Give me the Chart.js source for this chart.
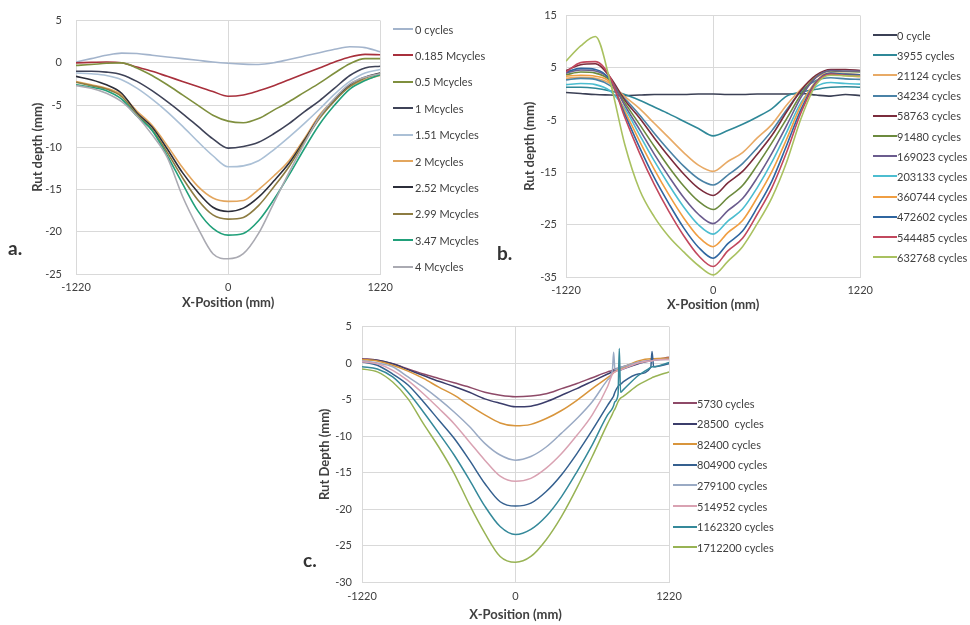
<!DOCTYPE html>
<html>
<head>
<meta charset="utf-8">
<script src="https://cdn.jsdelivr.net/npm/chart.js@4.4.1/dist/chart.umd.min.js"></script>
<style>
  html, body { margin: 0; padding: 0; background: #ffffff; }
  body { width: 970px; height: 625px; position: relative; overflow: hidden; font-family: Lato, "Open Sans", sans-serif; }
  canvas { position: absolute; }
  .lg { position: absolute; display: flex; align-items: center; height: 14px; font-size: 11px; color: #404040; white-space: pre; }
  .lg .ln { display: inline-block; height: 2px; }
  .pl { position: absolute; font-size: 19px; font-weight: bold; color: #333; }
</style>
</head>
<body>
<canvas id="cA" width="400" height="315" style="left:0px;top:0px;"></canvas>
<canvas id="cB" width="400" height="315" style="left:480px;top:0px;"></canvas>
<canvas id="cC" width="400" height="315" style="left:290px;top:310px;"></canvas>
<div class="pl" style="left:8px;top:236px;">a.</div>
<div class="pl" style="left:497px;top:241px;">b.</div>
<div class="pl" style="left:303px;top:548px;">c.</div>
<div id="legends"></div>
<script>
// ---------- shared axis values ----------
const xTickValues = [-1220, 0, 1220];
const xPositions = [-1220,-1098,-976,-854,-732,-610,-488,-366,-244,-122,0,122,244,366,488,610,732,854,976,1098,1220];

// ---------- panel a ----------
const labelsA = ["0 cycles","0.185 Mcycles","0.5 Mcycles","1 Mcycles","1.51 Mcycles","2 Mcycles","2.52 Mcycles","2.99 Mcycles","3.47 Mcycles","4 Mcycles"];
const colorsA = ["#a3b4cc","#a8303c","#7f8f3e","#3f4358","#abc0d6","#e3a65e","#2c2e3a","#8d7c42","#21a07a","#aaaab2"];
const a_0    = [0.1,0.5,0.9,1.15,1.1,0.9,0.7,0.5,0.3,0.1,-0.05,-0.15,-0.2,0.0,0.4,0.8,1.2,1.6,1.9,1.8,1.3];
const a_0185 = [0.0,0.05,0.1,0.0,-0.5,-1.0,-1.6,-2.2,-2.8,-3.4,-3.95,-3.8,-3.3,-2.7,-2.0,-1.3,-0.6,0.1,0.7,1.0,0.95];
const a_05   = [-0.3,-0.2,-0.05,0.0,-0.6,-1.5,-2.6,-3.8,-5.0,-6.2,-6.9,-7.1,-6.6,-5.6,-4.6,-3.5,-2.4,-1.2,-0.1,0.5,0.5];
const a_1    = [-1.0,-1.0,-1.1,-1.4,-2.2,-3.3,-4.6,-6.0,-7.5,-9.0,-10.1,-9.9,-9.4,-8.4,-7.2,-5.8,-4.5,-3.0,-1.5,-0.6,-0.4];
const a_151  = [-1.2,-1.3,-1.5,-2.0,-3.0,-4.3,-5.8,-7.5,-9.3,-11.0,-12.3,-12.2,-11.6,-10.3,-8.8,-7.2,-5.5,-3.7,-2.2,-1.2,-0.8];
const a_2    = [-2.2,-2.6,-3.0,-3.8,-5.7,-7.4,-9.8,-12.4,-14.6,-16.0,-16.4,-16.3,-15.0,-13.4,-11.6,-9.0,-6.2,-4.3,-2.8,-2.0,-1.5];
const a_252  = [-1.6,-2.0,-2.6,-3.6,-5.9,-7.6,-10.2,-13.0,-15.3,-17.1,-17.6,-17.2,-15.9,-14.0,-11.9,-9.2,-6.4,-4.4,-2.6,-1.7,-1.2];
const a_299  = [-2.3,-2.7,-3.1,-4.0,-6.1,-7.9,-10.6,-13.6,-16.2,-18.0,-18.5,-18.3,-16.9,-14.7,-12.3,-9.4,-6.6,-4.5,-2.8,-1.8,-1.3];
const a_347  = [-2.6,-2.9,-3.3,-4.3,-6.3,-8.0,-11.0,-14.3,-17.5,-19.6,-20.4,-20.2,-18.7,-16.2,-13.3,-10.2,-7.3,-5.0,-3.1,-2.1,-1.4];
const a_4    = [-2.7,-3.0,-3.6,-4.6,-6.3,-8.5,-11.2,-15.8,-19.5,-22.6,-23.2,-22.6,-20.2,-16.6,-13.0,-9.6,-6.4,-4.2,-2.5,-1.7,-1.3];
const seriesA = [a_0,a_0185,a_05,a_1,a_151,a_2,a_252,a_299,a_347,a_4];

// ---------- panel b ----------
const labelsB = ["0 cycle","3955 cycles","21124 cycles","34234 cycles","58763 cycles","91480 cycles","169023 cycles","203133 cycles","360744 cycles","472602 cycles","544485 cycles","632768 cycles"];
const colorsB = ["#3b4055","#2f8898","#e8aa66","#4a82a6","#7b2c3c","#6c8a3e","#6b5c8e","#4cbdd0","#f09e42","#2f66a0","#c2485e","#a9c160"];
const b_0      = [0.3,0.1,-0.1,-0.2,-0.3,-0.2,-0.1,-0.1,-0.1,0.0,0.0,-0.1,-0.1,0.0,0.0,0.0,0.1,-0.2,-0.4,-0.1,-0.3];
const b_3955   = [1.3,1.3,1.1,0.6,-0.1,-1.2,-2.5,-3.8,-5.2,-6.6,-8.0,-7.0,-5.8,-4.4,-2.8,-0.4,0.4,0.9,1.3,1.4,1.3];
const b_21124  = [3.0,3.2,3.0,2.0,-0.5,-2.8,-5.6,-8.4,-11.2,-13.6,-14.8,-12.9,-11.2,-8.4,-5.8,-2.1,1.0,3.2,4.0,3.9,3.7];
const b_34234  = [2.7,3.0,2.8,1.6,-0.9,-4.0,-7.5,-10.8,-13.8,-16.2,-17.4,-15.5,-13.3,-10.3,-7.0,-3.0,0.6,2.6,3.1,2.9,2.8];
const b_58763  = [4.5,5.6,5.8,3.2,-1.2,-4.6,-8.4,-12.0,-15.3,-18.0,-19.4,-17.0,-14.8,-11.5,-7.9,-3.4,0.8,3.6,4.7,4.7,4.5];
const b_91480  = [3.7,4.2,4.0,2.6,-1.7,-5.8,-10.0,-14.0,-17.6,-20.5,-22.1,-19.8,-17.5,-13.6,-9.3,-4.7,0.0,3.3,4.4,4.3,4.2];
const b_169023 = [4.0,4.6,4.4,2.8,-2.2,-6.8,-11.5,-15.8,-19.8,-23.0,-24.8,-22.3,-20.0,-16.0,-11.3,-6.0,-0.5,3.2,4.5,4.4,4.4];
const b_203133 = [1.8,2.0,1.8,0.6,-2.8,-7.8,-12.8,-17.4,-21.6,-25.0,-26.8,-24.3,-22.0,-17.9,-13.0,-7.3,-1.5,1.4,2.2,2.0,1.9];
const b_360744 = [3.4,3.6,3.4,2.2,-3.3,-9.0,-14.4,-19.3,-23.7,-27.3,-29.2,-26.5,-24.2,-19.8,-14.8,-8.6,-2.0,2.4,3.8,3.5,3.3];
const b_472602 = [4.2,4.9,4.7,2.7,-3.9,-10.2,-16.0,-21.0,-25.6,-29.3,-31.4,-28.6,-26.2,-21.7,-16.6,-9.8,-2.8,2.3,4.0,3.8,3.7];
const b_544485 = [4.2,6.0,6.2,3.2,-4.5,-11.3,-17.3,-22.5,-27.1,-30.9,-33.0,-30.0,-27.6,-23.0,-17.9,-11.1,-3.4,2.1,3.8,3.6,3.5];
const b_632768 = [6.3,9.2,11.0,2.4,-9.7,-18.3,-23.5,-27.3,-30.2,-32.8,-34.6,-32.0,-29.2,-24.8,-19.8,-13.0,-4.5,1.8,3.6,3.5,3.4];
const seriesB = [b_0,b_3955,b_21124,b_34234,b_58763,b_91480,b_169023,b_203133,b_360744,b_472602,b_544485,b_632768];

// ---------- panel c ----------
const xPositionsC = [-1220,-1098,-976,-854,-732,-610,-488,-366,-244,-122,0,122,244,366,488,610,732,770,780,790,815,825,835,854,976,1075,1085,1098,1220];
const labelsC = ["5730 cycles","28500  cycles","82400 cycles","804900 cycles","279100 cycles","514952 cycles","1162320 cycles","1712200 cycles"];
const colorsC = ["#8e4a68","#3b3d6b","#d8953c","#35608f","#9aaac4","#d9a2b2","#35899a","#98b354"];
const c_5730    = [0.6,0.4,-0.1,-0.8,-1.5,-2.1,-2.7,-3.3,-4.0,-4.4,-4.6,-4.5,-4.2,-3.5,-2.8,-2.0,-1.2,-1.0,-0.9,-0.8,-0.7,-0.6,-0.6,-0.5,0.1,0.4,0.5,0.5,0.8];
const c_28500   = [0.5,0.4,-0.1,-0.9,-1.7,-2.5,-3.2,-4.0,-4.9,-5.5,-6.0,-5.9,-5.3,-4.4,-3.5,-2.5,-1.5,-1.2,-1.1,-1.1,-1.0,-0.9,-0.9,-0.8,-0.1,0.3,0.3,0.4,0.6];
const c_82400   = [0.5,0.3,-0.3,-1.1,-2.1,-3.3,-4.4,-5.8,-7.1,-8.2,-8.6,-8.4,-7.6,-6.5,-5.1,-3.5,-2.0,-1.5,-1.3,-1.2,-0.9,-0.8,-0.7,-0.6,0.3,0.6,0.6,0.6,0.7];
const c_804900  = [0.2,-0.3,-1.5,-3.0,-5.3,-7.8,-10.3,-13.3,-16.5,-19.0,-19.6,-19.2,-17.6,-15.3,-12.4,-9.2,-5.8,-4.8,-4.5,-4.0,-3.2,-3.0,-2.9,-2.6,-1.5,-0.6,1.6,-0.5,-0.1];
const c_279100  = [0.3,0.0,-0.5,-1.9,-3.3,-4.9,-6.7,-8.7,-11.0,-12.6,-13.3,-12.8,-11.5,-9.6,-7.6,-5.3,-2.3,-1.0,1.5,-0.9,-0.7,-0.6,-0.6,-0.5,0.1,0.3,0.3,0.4,0.5];
const c_514952  = [0.2,-0.1,-1.0,-2.4,-4.2,-6.2,-8.3,-10.8,-13.3,-15.5,-16.2,-15.8,-14.4,-12.4,-9.9,-7.1,-3.2,-1.5,-1.3,-1.2,-1.0,-0.9,-0.9,-0.8,0.0,0.3,0.3,0.4,0.5];
const c_1162320 = [-0.5,-0.8,-1.9,-4.0,-6.7,-9.6,-12.6,-16.0,-19.6,-22.4,-23.5,-22.8,-21.0,-18.3,-14.9,-11.2,-7.1,-6.2,-5.8,-5.3,-4.3,2.0,-4.0,-3.7,-1.7,-0.6,-0.5,-0.5,0.1];
const c_1712200 = [-0.8,-1.2,-2.6,-4.9,-8.3,-11.5,-15.1,-19.4,-23.3,-26.5,-27.3,-26.5,-24.2,-21.0,-17.1,-12.8,-8.3,-7.0,-6.6,-6.3,-5.3,-5.0,-4.8,-4.6,-3.0,-2.1,-2.0,-1.9,-1.2];
const seriesC = [c_5730,c_28500,c_82400,c_804900,c_279100,c_514952,c_1162320,c_1712200];

// ---------- builder ----------
const FONT = 'Lato, "Open Sans", sans-serif';
const GRID = '#d9d9d9';
const TXT = '#404040';

function buildChart(id, xs, series, labels, colors, cfg) {
  const datasets = series.map((ys, i) => ({
    label: labels[i],
    data: ys.map((y, k) => ({x: xs[k], y: y})),
    borderColor: colors[i],
    backgroundColor: colors[i],
    borderWidth: cfg.lw,
    pointRadius: 0,
    fill: false,
    tension: 0.35,
    cubicInterpolationMode: cfg.monotone ? 'monotone' : 'default'
  })).reverse();
  return new Chart(document.getElementById(id), {
    type: 'line',
    data: { datasets },
    options: {
      responsive: false,
      animation: false,
      devicePixelRatio: 1,
      layout: { padding: { left: 0, top: cfg.padTop, right: cfg.padRight, bottom: 0 } },
      plugins: { legend: { display: false }, tooltip: { enabled: false } },
      scales: {
        x: {
          type: 'linear', min: -1220, max: 1220,
          afterBuildTicks: s => { s.ticks = xTickValues.map(v => ({ value: v })); },
          afterFit: s => { s.height = cfg.xH; },
          ticks: { color: TXT, font: { family: FONT, size: 11 }, padding: cfg.xTickPad, maxRotation: 0, autoSkip: false, callback: v => String(v) },
          grid: { color: GRID, lineWidth: 1, drawTicks: false },
          border: { color: GRID },
          title: { display: true, text: 'X-Position (mm)', color: TXT, font: { family: FONT, size: 13, weight: 'bold' }, padding: { top: 0, bottom: cfg.xTitlePad } }
        },
        y: {
          min: cfg.yMin, max: cfg.yMax,
          afterFit: s => { s.width = cfg.yW; },
          ticks: { stepSize: cfg.yStep, color: TXT, font: { family: FONT, size: 11 }, padding: cfg.yTickPad },
          grid: { color: GRID, lineWidth: 1, drawTicks: false },
          border: { color: GRID },
          title: { display: true, text: cfg.yTitle, color: TXT, font: { family: FONT, size: 13, weight: 'bold' }, padding: { top: cfg.yTitlePad, bottom: 0 } }
        }
      }
    }
  });
}

buildChart('cA', xPositions, seriesA, labelsA, colorsA, {
  lw: 1.6, monotone: true, padTop: 20, padRight: 16, xH: 41, yW: 76,
  xTickPad: 7, xTitlePad: 4, yTickPad: 14, yTitlePad: 30,
  yMin: -25, yMax: 5, yStep: 5, yTitle: 'Rut depth (mm)'
});
buildChart('cB', xPositions, seriesB, labelsB, colorsB, {
  lw: 1.6, monotone: true, padTop: 15, padRight: 13, xH: 38, yW: 86,
  xTickPad: 7, xTitlePad: 2, yTickPad: 9, yTitlePad: 42,
  yMin: -35, yMax: 15, yStep: 10, yTitle: 'Rut depth (mm)'
});
buildChart('cC', xPositionsC, seriesC, labelsC, colorsC, {
  lw: 1.5, monotone: true, padTop: 15, padRight: 21, xH: 43, yW: 72,
  xTickPad: 8, xTitlePad: 2, yTickPad: 10, yTitlePad: 27,
  yMin: -30, yMax: 5, yStep: 5, yTitle: 'Rut Depth (mm)'
});

// ---------- legends (HTML text) ----------
function buildLegend(labels, colors, x0, x1, yStart, dy, gap) {
  const host = document.getElementById('legends');
  labels.forEach((lab, i) => {
    const d = document.createElement('div');
    d.className = 'lg';
    d.style.left = x0 + 'px';
    d.style.top = (yStart + i * dy - 7) + 'px';
    const ln = document.createElement('span');
    ln.className = 'ln';
    ln.style.width = (x1 - x0) + 'px';
    ln.style.background = colors[i];
    const t = document.createElement('span');
    t.textContent = lab;
    t.style.marginLeft = gap + 'px';
    d.appendChild(ln); d.appendChild(t);
    host.appendChild(d);
  });
}
buildLegend(labelsA, colorsA, 393, 413, 29, 26.4, 2);
buildLegend(labelsB, colorsB, 873, 897, 35, 20.2, 0);
buildLegend(labelsC, colorsC, 673, 697, 403, 20.6, 0);
</script>
</body>
</html>
